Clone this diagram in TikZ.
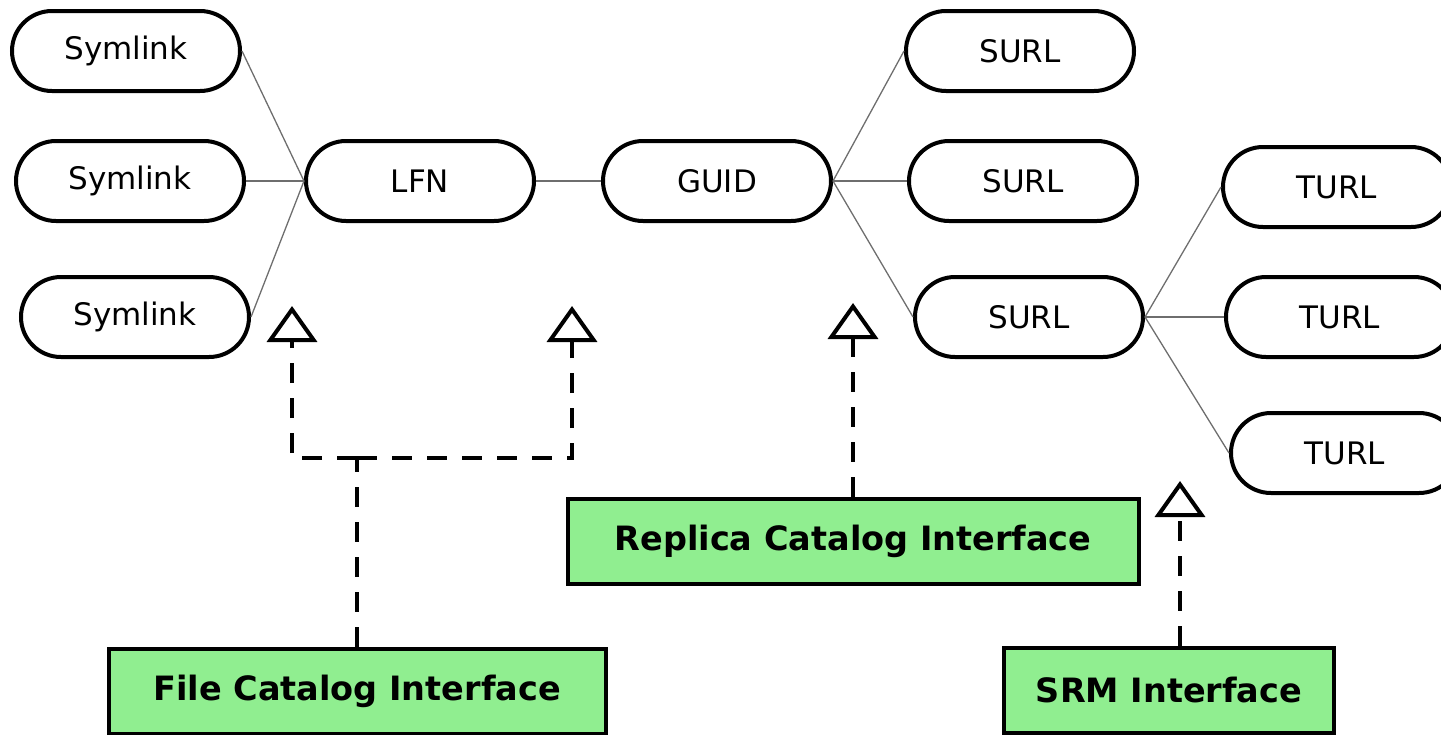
\documentclass[tikz,border=0pt]{standalone}
\usepackage{fontspec}
\setmainfont{DejaVu Sans}
\usetikzlibrary{arrows.meta}
\definecolor{ifacegreen}{RGB}{144,238,144}
\definecolor{linkgray}{RGB}{110,110,110}

\begin{document}
\begin{tikzpicture}[x=1pt,y=-1pt,
  entry/.style={draw,line width=4pt,rounded corners=40pt,minimum width=228pt,minimum height=80pt,font=\fontsize{31}{37}\selectfont},
  iface/.style={draw,line width=4pt,fill=ifacegreen,minimum height=85pt,font=\fontsize{33.5}{40}\selectfont\bfseries},
  link/.style={draw=linkgray,line width=1.3pt},
  realize/.style={line width=4pt,dash pattern=on 20pt off 15pt,-{Triangle[open,width=50pt,length=36pt]}}]

\useasboundingbox (0,0) rectangle (1441,734);

% catalog entries
\node[entry] (sym1) at (126,51) {Symlink};
\node[entry] (sym2) at (130,181) {Symlink};
\node[entry] (sym3) at (135,317) {Symlink};
\node[entry] (lfn) at (420,181) {LFN};
\node[entry] (guid) at (717,181) {GUID};
\node[entry] (surl1) at (1020,51) {SURL};
\node[entry] (surl2) at (1023,181) {SURL};
\node[entry] (surl3) at (1029,317) {SURL};
\node[entry] (turl1) at (1337,187) {TURL};
\node[entry] (turl2) at (1340,317) {TURL};
\node[entry] (turl3) at (1345,453) {TURL};

\draw[link] (sym1.east) -- (lfn.west);
\draw[link] (sym2.east) -- (lfn.west);
\draw[link] (sym3.east) -- (lfn.west);
\draw[link] (lfn.east) -- (guid.west);
\draw[link] (guid.east) -- (surl1.west);
\draw[link] (guid.east) -- (surl2.west);
\draw[link] (guid.east) -- (surl3.west);
\draw[link] (surl3.east) -- (turl1.west);
\draw[link] (surl3.east) -- (turl2.west);
\draw[link] (surl3.east) -- (turl3.west);

% interfaces
\node[iface,minimum width=497pt] (fci) at (357,691) {File Catalog Interface};
\node[iface,minimum width=571pt] (rci) at (853,541) {Replica Catalog Interface};
\node[iface,minimum width=330pt] (srm) at (1169,690) {SRM Interface};

\coordinate (tipa) at (292,306);
\coordinate (tipb) at (572,306);
\coordinate (tipc) at (853,303);
\coordinate (tipd) at (1180,481);
\coordinate (join) at (357,458);

\draw[line width=4pt,dash pattern=on 20pt off 15pt] (fci.north) -- (join);
\draw[realize] (join) -| (tipa);
\draw[realize] (join) -| (tipb);
\draw[realize] (rci.north) -- (tipc);
\draw[realize] (srm.north -| tipd) -- (tipd);

\end{tikzpicture}
\end{document}
